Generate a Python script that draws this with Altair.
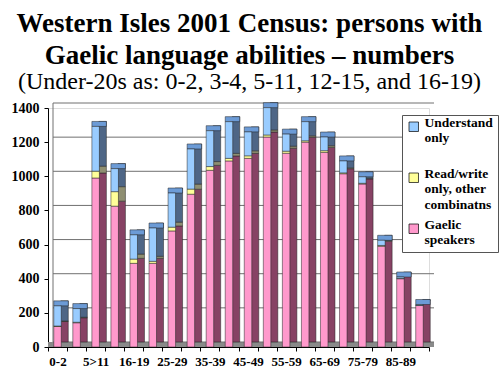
import altair as alt
import pandas as pd

cats = ["0-2", "3-4", "5>11", "12-15", "16-19", "20-24", "25-29", "30-34", "35-39", "40-44",
        "45-49", "50-54", "55-59", "60-64", "65-69", "70-74", "75-79", "80-84", "85-89", "90+"]
gaelic = [120, 142, 990, 825, 490, 490, 680, 895, 1035, 1090,
          1105, 1230, 1135, 1200, 1140, 1015, 955, 590, 400, 243]
readwrite = [3, 3, 40, 85, 25, 12, 22, 30, 22, 15,
             15, 12, 12, 8, 10, 5, 4, 5, 2, 1]
understand = [118, 80, 262, 135, 142, 195, 200, 235, 210, 215,
              140, 160, 100, 112, 80, 70, 38, 30, 8, 5]

series = ["Gaelic speakers", "Read/write only, other combinatns", "Understand only"]
front_colors = ["#ff99cc", "#ffff99", "#99ccff"]
side_colors = ["#874264", "#8f8f72", "#4e6686"]
top_color = "#6c9bd6"
shown_labels = ["0-2", "5>11", "16-19", "25-29", "35-39", "45-49", "55-59", "65-69", "75-79", "85-89"]
grid_values = [0, 200, 400, 600, 800, 1000, 1200, 1400]

rows = []
for i, c in enumerate(cats):
    for k, vals in enumerate([gaelic, readwrite, understand]):
        rows.append({"age": c, "series": series[k], "value": vals[i], "ord": k, "side": side_colors[k]})
df = pd.DataFrame(rows)
grid_df = pd.DataFrame({"v": grid_values})

W, H = 381, 239
FONT = "Liberation Serif"

shown_js = "[" + ",".join("'" + s + "'" for s in shown_labels) + "]"

yscale = alt.Scale(domain=[0, 1400], nice=False)
yaxis = alt.Axis(title=None, values=grid_values, grid=False, format="d", labelOverlap=False,
                 labelFont=FONT, labelFontWeight="bold", labelFontSize=14, labelColor="black",
                 domainColor="black", tickColor="black", tickSize=4, labelPadding=5)

x_enc = alt.X("age:N", sort=cats, scale=alt.Scale(paddingInner=0, paddingOuter=0),
              axis=alt.Axis(title=None, tickBand="extent", labelAngle=0, labelOverlap=False,
                            labelExpr="indexof(" + shown_js + ", datum.value) >= 0 ? datum.label : ''",
                            labelFont=FONT, labelFontWeight="bold", labelFontSize=13, labelColor="black",
                            domainColor="black", tickColor="black", tickSize=4, labelPadding=4))
y_enc = alt.Y("value:Q", stack="zero", scale=yscale, axis=yaxis)
order_enc = alt.Order("ord:Q", sort="ascending")

floor = alt.Chart(grid_df).transform_filter("datum.v == 0").mark_rect(
    color="#8a8a8a", y2Offset=-5).encode(
    x=alt.value(0), x2=alt.value(W + 5),
    y=alt.Y("v:Q", scale=yscale, axis=yaxis), y2=alt.Y2("v"))

grid = alt.Chart(grid_df).mark_rule(color="#707070", strokeWidth=1, yOffset=-5).encode(
    x=alt.value(5), x2=alt.value(W + 5), y=alt.Y("v:Q", scale=yscale, axis=yaxis))

wall = alt.Chart(grid_df).transform_filter("datum.v == 0").mark_rule(
    color="#707070", strokeWidth=1, yOffset=-5, y2Offset=-5).encode(
    x=alt.value(5), y=alt.Y("v:Q", scale=yscale, axis=yaxis), y2=alt.datum(1400))

side = alt.Chart(df).mark_bar(width=7.5, xOffset=7, yOffset=-5, y2Offset=-5,
                              stroke="#222222", strokeWidth=0.5).encode(
    x=x_enc, y=y_enc, order=order_enc,
    color=alt.Color("side:N", scale=None, legend=None))

cap = alt.Chart(df).transform_aggregate(total="sum(value)", groupby=["age"]).mark_bar(
    width=14.5, xOffset=3.5, y2Offset=-5, color=top_color, stroke="#222222", strokeWidth=0.5).encode(
    x=x_enc, y=alt.Y("total:Q", scale=yscale, axis=yaxis), y2=alt.Y2("total"))

front = alt.Chart(df).mark_bar(width=7.5, stroke="#222222", strokeWidth=0.5).encode(
    x=x_enc, y=y_enc, order=order_enc,
    color=alt.Color("series:N",
                    scale=alt.Scale(domain=series[::-1], range=front_colors[::-1]),
                    legend=alt.Legend(
                        title=None, orient="none", legendX=354, legendY=7,
                        labelExpr="datum.label == 'Understand only' ? ['Understand','only',''] : datum.label == 'Gaelic speakers' ? ['Gaelic','speakers'] : ['Read/write','only, other','combinatns']",
                        labelFont=FONT, labelFontWeight="bold", labelFontSize=13.5, labelColor="black",
                        labelBaseline="alphabetic", symbolType="square", symbolSize=90,
                        symbolStrokeColor="black", symbolStrokeWidth=0.7,
                        fillColor="white", strokeColor="#555555", padding=5,
                        rowPadding=5, labelOffset=4, labelLimit=200)))

chart = alt.layer(floor, grid, wall, side, cap, front).resolve_scale(color="independent").properties(
    width=W, height=H,
    autosize=alt.AutoSizeParams(type="none"),
    padding={"left": 48, "top": 108, "right": 500 - 48 - W, "bottom": 375 - 108 - H},
    title=alt.Title(
        text=["Western Isles 2001 Census: persons with", "Gaelic language abilities \u2013 numbers"],
        subtitle="(Under-20s as: 0-2, 3-4, 5-11, 12-15, and 16-19)",
        font=FONT, fontSize=27, fontWeight="bold", color="black", lineHeight=32,
        subtitleFont=FONT, subtitleFontSize=24, subtitleColor="black", subtitlePadding=0,
        anchor="middle", dx=11, offset=6),
).configure_view(stroke=None).configure(background="white")

chart.save("out.html", embed_options={"renderer": "svg", "actions": False})
